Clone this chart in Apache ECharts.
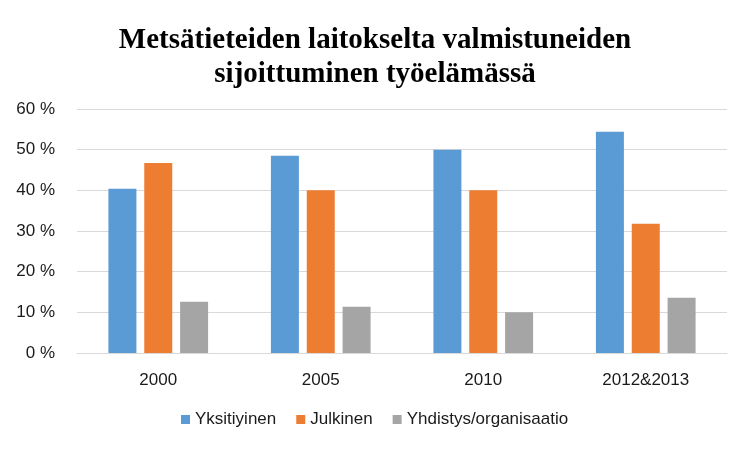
<!DOCTYPE html>
<html><head><meta charset="utf-8">
<script src="https://cdn.jsdelivr.net/npm/echarts@6/dist/echarts.min.js"></script>
<style>html,body{margin:0;padding:0;background:#fff}#c{width:750px;height:450px}</style>
</head><body><div id="c"></div>
<script>
const categories = ['2000', '2005', '2010', '2012&2013'];
const yksityinen = [40.4, 48.5, 50.0, 54.4];
const julkinen = [46.7, 40.0, 40.0, 31.8];
const yhdistys = [12.6, 11.4, 10.0, 13.6];
const seriesNames = ['Yksitiyinen', 'Julkinen', 'Yhdistys/organisaatio'];
const colors = ['#5B9BD5', '#ED7D31', '#A5A5A5'];

const chart = echarts.init(document.getElementById('c'));
const labelFont = 'Liberation Sans, Arial, sans-serif';
chart.setOption({
  animation: false,
  title: {
    text: 'Metsätieteiden laitokselta valmistuneiden\nsijoittuminen työelämässä',
    left: 'center', top: 19,
    textStyle: { fontFamily: 'Liberation Serif, Times New Roman, serif', fontWeight: 'bold', fontSize: 29, color: '#000', lineHeight: 34 }
  },
  legend: {
    bottom: 17, left: 176, itemWidth: 9, itemHeight: 9, itemGap: 20, icon: 'rect',
    textStyle: { fontFamily: labelFont, fontSize: 17, color: '#1a1a1a' },
    data: seriesNames
  },
  grid: { left: 77, right: 23, top: 109, bottom: 97 },
  xAxis: {
    type: 'category', data: categories,
    axisLine: { lineStyle: { color: '#D9D9D9' } },
    axisTick: { show: false },
    axisLabel: { fontFamily: labelFont, fontSize: 17, color: '#1a1a1a', margin: 19 }
  },
  yAxis: {
    type: 'value', min: 0, max: 60, interval: 10,
    axisLabel: { formatter: '{value} %', fontFamily: labelFont, fontSize: 17, color: '#1a1a1a', margin: 22 },
    splitLine: { lineStyle: { color: '#D9D9D9', width: 1 } },
    axisLine: { show: false }, axisTick: { show: false }
  },
  series: [yksityinen, julkinen, yhdistys].map((d, i) => ({
    name: seriesNames[i], type: 'bar', data: d, barWidth: 28, barGap: '28%',
    itemStyle: { color: colors[i] }
  }))
});
</script></body></html>
